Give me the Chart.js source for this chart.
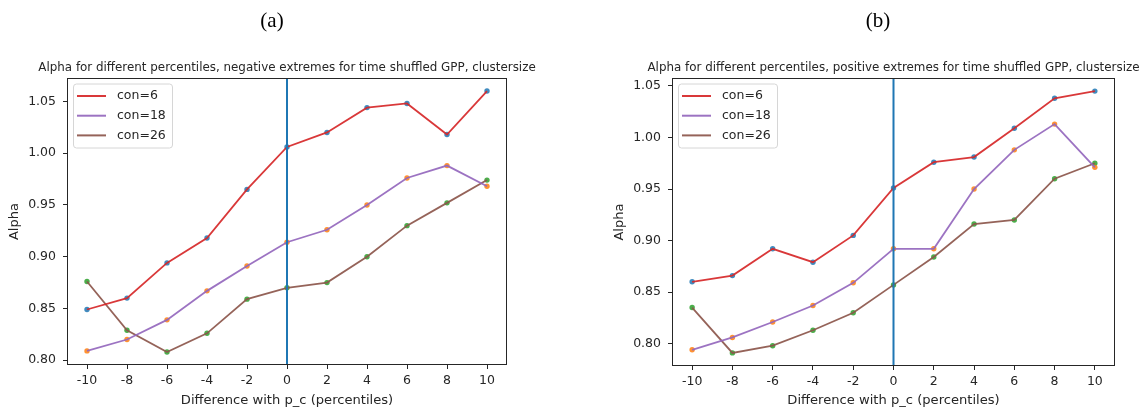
<!DOCTYPE html>
<html>
<head>
<meta charset="utf-8">
<script src="https://cdn.jsdelivr.net/npm/chart.js@4.4.1/dist/chart.umd.min.js"></script>
<style>
  html, body { margin: 0; padding: 0; background: #fff; }
  #page { position: relative; width: 1148px; height: 412px; overflow: hidden; }
  canvas { position: absolute; top: 0; }
  .panel-tag {
    position: absolute; top: 8px; line-height: 24px;
    font: 21px "Liberation Serif", "Times New Roman", serif; color: #000;
    transform: translateX(-50%);
  }
</style>
</head>
<body>
<div id="page">
  <canvas id="chart-neg" width="574" height="412" style="left:0"></canvas>
  <canvas id="chart-pos" width="577" height="412" style="left:605px"></canvas>
  <div class="panel-tag" style="left:272px">(a)</div>
  <div class="panel-tag" style="left:878px">(b)</div>
</div>
<script>
// percentile offsets from p_c
const percentileDiff = [-10, -8, -6, -4, -2, 0, 2, 4, 6, 8, 10];
const xTicks = [-10, -8, -6, -4, -2, 0, 2, 4, 6, 8, 10];
const yTicks = [0.80, 0.85, 0.90, 0.95, 1.00, 1.05];
const seriesLabels = ['con=6', 'con=18', 'con=26'];

// negative extremes
const negCon6  = [0.849, 0.860, 0.894, 0.918, 0.965, 1.006, 1.020, 1.044, 1.048, 1.018, 1.060];
const negCon18 = [0.809, 0.820, 0.839, 0.867, 0.891, 0.914, 0.926, 0.950, 0.976, 0.988, 0.968];
const negCon26 = [0.876, 0.829, 0.808, 0.826, 0.859, 0.870, 0.875, 0.900, 0.930, 0.952, 0.974];

// positive extremes
const posCon6  = [0.860, 0.866, 0.892, 0.879, 0.905, 0.951, 0.976, 0.981, 1.009, 1.038, 1.045];
const posCon18 = [0.794, 0.806, 0.821, 0.837, 0.859, 0.892, 0.892, 0.950, 0.988, 1.013, 0.971];
const posCon26 = [0.835, 0.791, 0.798, 0.813, 0.830, 0.857, 0.884, 0.916, 0.920, 0.960, 0.975];

const lineColors = ['rgba(214,39,40,0.92)', 'rgba(148,103,189,0.92)', 'rgba(140,86,75,0.92)'];
const dotColors = ['rgba(31,119,180,0.85)', 'rgba(255,127,14,0.85)', 'rgba(44,160,44,0.85)'];
const ink = '#262626';
const fontFamily = '"DejaVu Sans", sans-serif';

Chart.defaults.font.family = fontFamily;
Chart.defaults.color = ink;

// title centred over the plot area, not the canvas
const plotTitle = {
  id: 'plotTitle',
  afterDraw(chart, args, opts) {
    const { ctx, chartArea: a } = chart;
    ctx.save();
    ctx.font = '11.9px ' + fontFamily;
    ctx.fillStyle = ink;
    ctx.textAlign = 'center';
    ctx.textBaseline = 'middle';
    ctx.fillText(opts.text, (a.left + a.right) / 2, a.top - 10.5);
    ctx.restore();
  }
};

// vertical marker at p_c
const zeroLine = {
  id: 'zeroLine',
  afterDatasetsDraw(chart) {
    const { ctx, chartArea, scales } = chart;
    const x = scales.x.getPixelForValue(0);
    ctx.save();
    ctx.strokeStyle = '#1f77b4';
    ctx.lineWidth = 2;
    ctx.beginPath();
    ctx.moveTo(x, chartArea.top);
    ctx.lineTo(x, chartArea.bottom);
    ctx.stroke();
    ctx.restore();
  }
};

// legend box in the upper left corner of the plot
const boxLegend = {
  id: 'boxLegend',
  afterDatasetsDraw(chart) {
    const { ctx, chartArea } = chart;
    const items = chart.data.datasets.filter(d => d.inLegend);
    const left = chartArea.left + 6, top = chartArea.top + 5.5;
    ctx.save();
    ctx.beginPath();
    ctx.roundRect(left + 0.5, top + 0.5, 99, 64, 3);
    ctx.fillStyle = 'rgba(255,255,255,0.8)';
    ctx.fill();
    ctx.strokeStyle = '#d6d6d6';
    ctx.lineWidth = 1;
    ctx.stroke();
    ctx.font = '12.5px ' + fontFamily;
    ctx.textBaseline = 'middle';
    items.forEach((d, i) => {
      const y = top + 12.5 + i * 19.7;
      ctx.strokeStyle = d.borderColor;
      ctx.lineWidth = 2;
      ctx.beginPath();
      ctx.moveTo(left + 4, y);
      ctx.lineTo(left + 33, y);
      ctx.stroke();
      ctx.fillStyle = ink;
      ctx.fillText(d.label, left + 44, y);
    });
    ctx.restore();
  }
};

// axes frame on all four sides
const frame = {
  id: 'frame',
  afterDraw(chart) {
    const { ctx, chartArea: a } = chart;
    ctx.save();
    ctx.strokeStyle = ink;
    ctx.lineWidth = 1;
    ctx.strokeRect(a.left + 0.5, a.top + 0.5, a.right - a.left - 1, a.bottom - a.top - 1);
    ctx.restore();
  }
};

function paddedRange(series) {
  const all = series.flat();
  const lo = Math.min(...all), hi = Math.max(...all);
  const m = (hi - lo) * 0.05;
  return [lo - m, hi + m];
}

function makeChart(canvasId, title, series, padRight, xAxisHeight) {
  const [yMin, yMax] = paddedRange(series);
  const datasets = [];
  series.forEach((vals, i) => {
    const pts = percentileDiff.map((x, j) => ({ x: x, y: vals[j] }));
    datasets.push({
      label: seriesLabels[i], data: pts, inLegend: true,
      borderColor: lineColors[i], borderWidth: 1.8, pointRadius: 0,
      tension: 0, fill: false, order: 1
    });
    datasets.push({
      label: seriesLabels[i] + ' pts', data: pts, showLine: false,
      pointRadius: 2.7, pointBorderWidth: 0,
      pointBackgroundColor: dotColors[i], backgroundColor: dotColors[i], order: 2
    });
  });

  new Chart(document.getElementById(canvasId), {
    type: 'line',
    data: { datasets: datasets },
    plugins: [zeroLine, boxLegend, frame, plotTitle],
    options: {
      responsive: false,
      animation: false,
      devicePixelRatio: 1,
      layout: { padding: { top: 78, left: 0, right: padRight, bottom: 0 } },
      plugins: {
        legend: { display: false },
        tooltip: { enabled: false },
        title: { display: false },
        plotTitle: { text: title }
      },
      scales: {
        x: {
          type: 'linear', min: -11, max: 11,
          afterBuildTicks: s => { s.ticks = xTicks.map(v => ({ value: v })); },
          afterFit: s => { s.height = xAxisHeight; },
          ticks: { padding: 4, font: { size: 12.5 }, color: ink, callback: v => String(v) },
          grid: { drawOnChartArea: false, tickLength: 4, tickColor: ink },
          border: { display: false },
          title: {
            display: true, text: 'Difference with p_c (percentiles)',
            font: { size: 13.1 }, color: ink, padding: { top: 0, bottom: 3.2 }
          }
        },
        y: {
          type: 'linear', min: yMin, max: yMax,
          afterBuildTicks: s => { s.ticks = yTicks.map(v => ({ value: v })); },
          afterFit: s => { s.width = 67; },
          ticks: { padding: 7, font: { size: 12.5 }, color: ink, callback: v => v.toFixed(2) },
          grid: { drawOnChartArea: false, tickLength: 4, tickColor: ink },
          border: { display: false },
          title: {
            display: true, text: 'Alpha',
            font: { size: 13.1 }, color: ink, padding: { top: 7.2, bottom: 0 }
          }
        }
      }
    }
  });
}

makeChart('chart-neg',
  'Alpha for different percentiles, negative extremes for time shuffled GPP, clustersize',
  [negCon6, negCon18, negCon26], 67, 47);
makeChart('chart-pos',
  'Alpha for different percentiles, positive extremes for time shuffled GPP, clustersize',
  [posCon6, posCon18, posCon26], 67, 46);
</script>
</body>
</html>
